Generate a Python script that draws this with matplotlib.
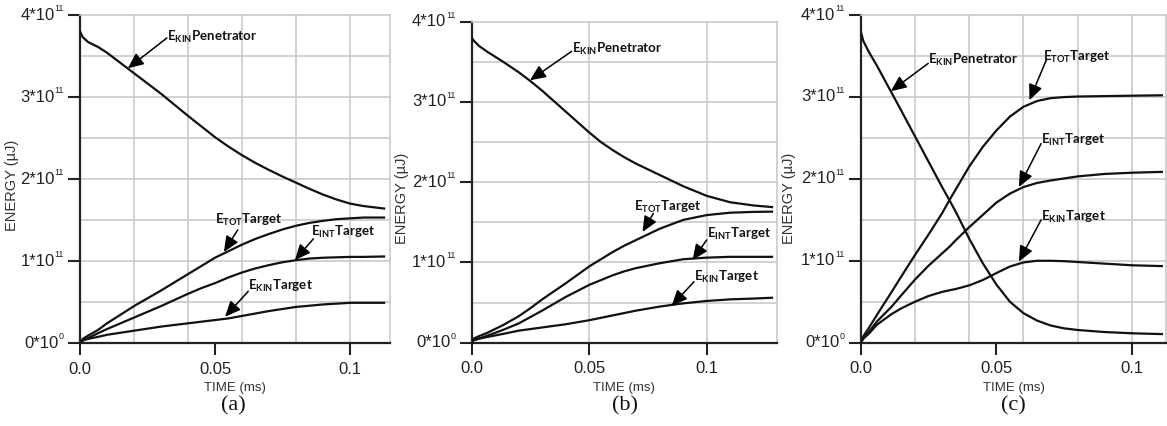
import matplotlib
matplotlib.use("Agg")
import matplotlib.pyplot as plt
import matplotlib.transforms as mtransforms

plt.rcParams['mathtext.fontset'] = 'custom'
plt.rcParams['mathtext.rm'] = 'Liberation Sans'
plt.rcParams['mathtext.bf'] = 'Lato:bold'
plt.rcParams['mathtext.default'] = 'regular'

# ---------------- data (energy in units of 1e11 uJ, time in ms) ----------------
t_a = [0, 0.001, 0.003, 0.0067, 0.01, 0.02, 0.03, 0.04, 0.045, 0.05, 0.055, 0.06, 0.065, 0.07,
       0.075, 0.08, 0.085, 0.09, 0.095, 0.1, 0.105, 0.1126]
pen_a = [3.80, 3.73, 3.67, 3.61, 3.54, 3.29, 3.04, 2.77, 2.64, 2.51, 2.395, 2.29, 2.195, 2.11,
         2.03, 1.955, 1.88, 1.81, 1.75, 1.70, 1.67, 1.64]
tot_a = [0, 0.05, 0.09, 0.16, 0.24, 0.45, 0.64, 0.84, 0.94, 1.04, 1.12, 1.20, 1.27, 1.33,
         1.385, 1.43, 1.465, 1.49, 1.51, 1.52, 1.53, 1.53]
int_a = [0, 0.03, 0.06, 0.12, 0.17, 0.31, 0.45, 0.60, 0.67, 0.73, 0.80, 0.86, 0.91, 0.95,
         0.985, 1.01, 1.03, 1.04, 1.045, 1.05, 1.05, 1.055]
kin_a = [0, 0.03, 0.05, 0.075, 0.10, 0.15, 0.20, 0.24, 0.26, 0.28, 0.30, 0.33, 0.36, 0.39,
         0.415, 0.44, 0.455, 0.47, 0.48, 0.49, 0.49, 0.49]

t_b = [0, 0.0007, 0.003, 0.0064, 0.0134, 0.02, 0.025, 0.03, 0.04, 0.05, 0.055, 0.06, 0.065,
       0.07, 0.08, 0.09, 0.1, 0.11, 0.12, 0.1278]
pen_b = [3.80, 3.77, 3.70, 3.63, 3.50, 3.37, 3.26, 3.14, 2.88, 2.62, 2.50, 2.40, 2.31,
         2.23, 2.09, 1.95, 1.83, 1.75, 1.71, 1.69]
tot_b = [0, 0.05, 0.08, 0.12, 0.22, 0.33, 0.43, 0.54, 0.74, 0.95, 1.04, 1.13, 1.21,
         1.28, 1.42, 1.53, 1.59, 1.62, 1.63, 1.633]
int_b = [0, 0.03, 0.05, 0.085, 0.16, 0.24, 0.32, 0.40, 0.57, 0.72, 0.78, 0.84, 0.89,
         0.93, 0.99, 1.04, 1.06, 1.07, 1.07, 1.07]
kin_b = [0, 0.03, 0.05, 0.07, 0.11, 0.15, 0.17, 0.19, 0.23, 0.28, 0.31, 0.34, 0.37,
         0.40, 0.45, 0.49, 0.52, 0.54, 0.55, 0.56]

t_c = [0, 0.001, 0.003, 0.006, 0.0114, 0.015, 0.02, 0.025, 0.03, 0.0327, 0.035, 0.04, 0.045,
       0.05, 0.055, 0.06, 0.065, 0.07, 0.075, 0.08, 0.09, 0.1, 0.111]
pen_c = [3.80, 3.68, 3.55, 3.38, 3.05, 2.83, 2.52, 2.21, 1.90, 1.74, 1.60, 1.27, 0.97,
         0.71, 0.50, 0.36, 0.27, 0.21, 0.175, 0.155, 0.13, 0.115, 0.105]
tot_c = [0, 0.08, 0.18, 0.34, 0.62, 0.81, 1.07, 1.32, 1.58, 1.74, 1.87, 2.15, 2.39,
         2.59, 2.76, 2.88, 2.95, 2.985, 2.998, 3.005, 3.01, 3.015, 3.02]
int_c = [0, 0.06, 0.13, 0.26, 0.44, 0.58, 0.77, 0.94, 1.09, 1.17, 1.25, 1.41, 1.56,
         1.71, 1.82, 1.90, 1.95, 1.98, 2.005, 2.03, 2.06, 2.075, 2.085]
kin_c = [0, 0.05, 0.11, 0.22, 0.35, 0.42, 0.50, 0.57, 0.62, 0.64, 0.655, 0.70, 0.765,
         0.85, 0.93, 0.98, 1.00, 1.00, 0.995, 0.985, 0.965, 0.945, 0.935]

y_ticks = [0, 1, 2, 3, 4]
y_tick_mant = ['0*10', '1*10', '2*10', '3*10', '4*10']
y_tick_exp = ['0', '11', '11', '11', '11']
x_ticks = [0.0, 0.05, 0.1]
x_ticklabels = ['0.0', '0.05', '0.1']
panel_labels = ['(a)', '(b)', '(c)']

lab_pen = 'E$_{KIN}$Penetrator'
lab_tot = 'E$_{TOT}$Target'
lab_int = 'E$_{INT}$Target'
lab_kin = 'E$_{KIN}$Target'

# annotations: (label, text x, text y, arrow start, arrow tip)
ann_a = [(lab_pen, (0.0322, 3.73), (0.0322, 3.72), (0.0177, 3.35)),
         (lab_tot, (0.0500, 1.50), (0.0584, 1.38), (0.0533, 1.11)),
         (lab_int, (0.0855, 1.36), (0.0864, 1.27), (0.0796, 1.01)),
         (lab_kin, (0.0623, 0.69), (0.0623, 0.63), (0.0537, 0.32))]
ann_b = [(lab_pen, (0.0425, 3.66), (0.0425, 3.63), (0.0248, 3.27)),
         (lab_tot, (0.0690, 1.69), (0.0773, 1.61), (0.0727, 1.38)),
         (lab_int, (0.1000, 1.35), (0.1000, 1.28), (0.0940, 1.03)),
         (lab_kin, (0.0946, 0.82), (0.0946, 0.76), (0.0851, 0.46))]
ann_c = [(lab_pen, (0.0249, 3.45), (0.0249, 3.41), (0.0111, 3.07)),
         (lab_tot, (0.0671, 3.49), (0.0684, 3.45), (0.0622, 2.96)),
         (lab_int, (0.0665, 2.47), (0.0665, 2.43), (0.0583, 1.90)),
         (lab_kin, (0.0665, 1.54), (0.0665, 1.50), (0.0583, 0.99))]

panels = [
    dict(t=t_a, series=[pen_a, tot_a, int_a, kin_a], xmax=0.1148, grid_dx=0.02, ann=ann_a,
         rect=[80 / 1167, 1 - 343 / 426, 310 / 1167, 328 / 426], lab_x=233, ylab=(-0.218, 0.48)),
    dict(t=t_b, series=[pen_b, tot_b, int_b, kin_b], xmax=0.1298, grid_dx=0.05, ann=ann_b,
         rect=[471.7 / 1167, 1 - 342.7 / 426, 305 / 1167, 321 / 426], lab_x=625, ylab=(-0.228, 0.45)),
    dict(t=t_c, series=[pen_c, tot_c, int_c, kin_c], xmax=0.1126, grid_dx=0.02, ann=ann_c,
         rect=[860.7 / 1167, 1 - 342.7 / 426, 305.5 / 1167, 327.7 / 426], lab_x=1013, ylab=(-0.235, 0.44)),
]

DPI = 100
fig = plt.figure(figsize=(11.67, 4.26), dpi=DPI)
renderer = fig.canvas.get_renderer()
grid_col = '#c9c9c9'
tick_len = 8.5
tick_pad = 3.0

for i, p in enumerate(panels):
    ax = fig.add_axes(p['rect'])
    ax.set_xlim(0, p['xmax'])
    ax.set_ylim(0, 4)
    k = 1
    while k * p['grid_dx'] < p['xmax'] - 1e-9:
        ax.axvline(k * p['grid_dx'], color=grid_col, lw=1.2, zorder=0)
        k += 1
    for gy in [0.5, 1, 1.5, 2, 2.5, 3, 3.5]:
        ax.axhline(gy, color=grid_col, lw=1.2, zorder=0)
    for s in p['series']:
        ax.plot(p['t'], s, color='#111111', lw=1.6, zorder=3)
    for lab, txy, a0, a1 in p['ann']:
        ax.annotate('', xy=a1, xytext=a0,
                    arrowprops=dict(arrowstyle='-|>,head_length=0.95,head_width=0.42',
                                    color='black', lw=1.1, shrinkA=0, shrinkB=0),
                    zorder=4)
        ax.text(txy[0], txy[1], lab, family='Lato', fontweight='bold', fontsize=9.5,
                ha='left', va='center', color='#111111', zorder=5)
    ax.set_xticks(x_ticks)
    ax.set_xticklabels(x_ticklabels, family='Liberation Sans', fontsize=12, color='#222222')
    ax.set_yticks(y_ticks)
    ax.set_yticklabels([''] * len(y_ticks))
    ax.tick_params(axis='both', which='major', direction='out', length=tick_len, width=1.5,
                   color='#222222')
    ax.tick_params(axis='x', pad=5)
    # y tick labels: mantissa with small superscript exponent
    ytrans = ax.get_yaxis_transform()
    for yv, mant, ex in zip(y_ticks, y_tick_mant, y_tick_exp):
        off = -(tick_len + tick_pad)
        tr_e = mtransforms.offset_copy(ytrans, fig=fig, x=off, y=1.5, units='points')
        te = ax.text(0, yv, ex, transform=tr_e, ha='right', va='bottom',
                     family='Liberation Sans', fontsize=6.5, color='#222222', clip_on=False)
        w = te.get_window_extent(renderer).width * 72.0 / DPI
        tr_m = mtransforms.offset_copy(ytrans, fig=fig, x=off - w, y=0, units='points')
        ax.text(0, yv, mant, transform=tr_m, ha='right', va='center',
                family='Liberation Sans', fontsize=12, color='#222222', clip_on=False)
    for side in ['left', 'bottom']:
        ax.spines[side].set_linewidth(1.6)
        ax.spines[side].set_color('#222222')
    for side in ['top', 'right']:
        ax.spines[side].set_linewidth(1.2)
        ax.spines[side].set_color(grid_col)
    ax.set_xlabel('TIME (ms)', family='Liberation Sans', fontsize=9.5, color='#333333', labelpad=4)
    ax.set_ylabel('ENERGY (µJ)', family='Liberation Sans', fontsize=10.5, color='#333333',
                  va='center')
    ax.yaxis.set_label_coords(p['ylab'][0], p['ylab'][1])
    fig.text(p['lab_x'] / 1167, 1 - 406 / 426, panel_labels[i], family='Liberation Serif',
             fontsize=16, ha='center', va='center', color='#111111')

fig.savefig('out.png', dpi=DPI)
